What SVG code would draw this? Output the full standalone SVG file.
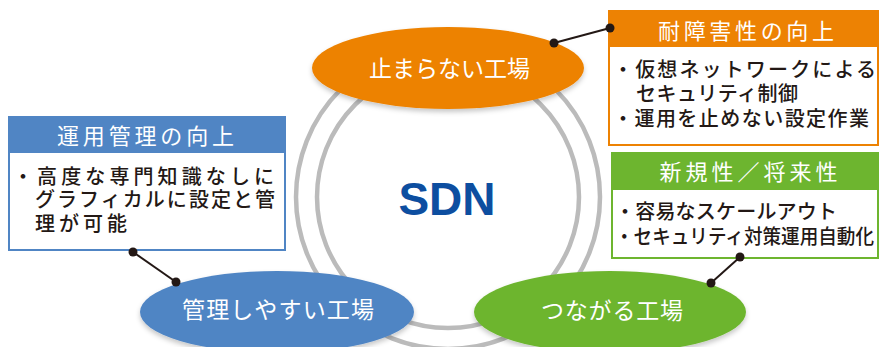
<svg xmlns="http://www.w3.org/2000/svg" width="880" height="347" viewBox="0 0 880 347">
<defs>
<filter id="sh" x="-10%" y="-20%" width="120%" height="150%">
<feDropShadow dx="0" dy="3" stdDeviation="2.5" flood-color="#000" flood-opacity="0.22"/>
</filter>
</defs>
<style>
.ring{fill:none;stroke:#BBBBBB;stroke-width:4.5}
.ell{filter:url(#sh)}
.lbl{font-family:"Noto Sans CJK JP","Noto Sans",sans-serif;font-size:23px;fill:#fff;text-anchor:middle}
.hd{font-family:"Noto Sans CJK JP","Noto Sans",sans-serif;font-size:22px;fill:#fff;text-anchor:middle}
.bd{font-family:"Noto Sans CJK JP","Noto Sans",sans-serif;font-size:20px;font-weight:500;fill:#231815}
.con line{stroke:#231815;stroke-width:2}
.con circle{fill:#231815}
</style>
<g id="rings">
<circle class="ring" cx="448" cy="197" r="152"/>
<circle class="ring" cx="448" cy="197" r="131"/>
</g>
<g id="sdn">
<text x="447" y="215" font-family="Liberation Sans, Arial, sans-serif" font-weight="bold" font-size="46" fill="#0D4EA0" text-anchor="middle">SDN</text>
</g>
<g id="node-top">
<ellipse class="ell" cx="448" cy="68" rx="136" ry="41" fill="#ED8203"/>
<text class="lbl" x="449.5" y="77" textLength="161">止まらない工場</text>
</g>
<g id="node-left">
<ellipse class="ell" cx="277" cy="312" rx="137" ry="41" fill="#5085C4"/>
<text class="lbl" x="278" y="318" textLength="192">管理しやすい工場</text>
</g>
<g id="node-right">
<ellipse class="ell" cx="610" cy="312" rx="136" ry="41" fill="#6DB52F"/>
<text class="lbl" x="612" y="319" textLength="142">つながる工場</text>
</g>
<g id="box-orange">
<rect x="609" y="11" width="269" height="134" fill="#fff" stroke="#ED8203" stroke-width="2"/>
<rect x="609" y="11" width="269" height="36" fill="#ED8203"/>
<text class="hd" x="746" y="38.5" textLength="176">耐障害性の向上</text>
<text class="bd" x="613" y="77" textLength="263">・仮想ネットワークによる</text>
<text class="bd" x="636" y="101" textLength="162">セキュリティ制御</text>
<text class="bd" x="613" y="126" textLength="256">・運用を止めない設定作業</text>
</g>
<g id="box-green">
<rect x="612" y="153" width="266" height="105" fill="#fff" stroke="#6DB52F" stroke-width="2"/>
<rect x="612" y="153" width="266" height="37" fill="#6DB52F"/>
<text class="hd" x="748.5" y="180" textLength="178">新規性／将来性</text>
<text class="bd" x="615" y="219" textLength="222">・容易なスケールアウト</text>
<text class="bd" x="615" y="243.5" textLength="259" lengthAdjust="spacingAndGlyphs">・セキュリティ対策運用自動化</text>
</g>
<g id="box-blue">
<rect x="9" y="117" width="276" height="133" fill="#fff" stroke="#5085C4" stroke-width="2"/>
<rect x="9" y="117" width="276" height="36" fill="#5085C4"/>
<text class="hd" x="145.5" y="143.5" textLength="177">運用管理の向上</text>
<text class="bd" x="13" y="184" textLength="261">・高度な専門知識なしに</text>
<text class="bd" x="35" y="207" textLength="240">グラフィカルに設定と管</text>
<text class="bd" x="35" y="231" textLength="92">理が可能</text>
</g>
<g id="connectors" class="con">
<line x1="554" y1="43" x2="610" y2="28"/>
<circle cx="554" cy="43" r="4.5"/>
<circle cx="610" cy="28" r="4.5"/>
<line x1="133" y1="252" x2="176" y2="282"/>
<circle cx="133" cy="252" r="4.5"/>
<circle cx="176" cy="282" r="4.5"/>
<line x1="740" y1="257" x2="711" y2="283"/>
<circle cx="740" cy="257" r="4.5"/>
<circle cx="711" cy="283" r="4.5"/>
</g>
</svg>
